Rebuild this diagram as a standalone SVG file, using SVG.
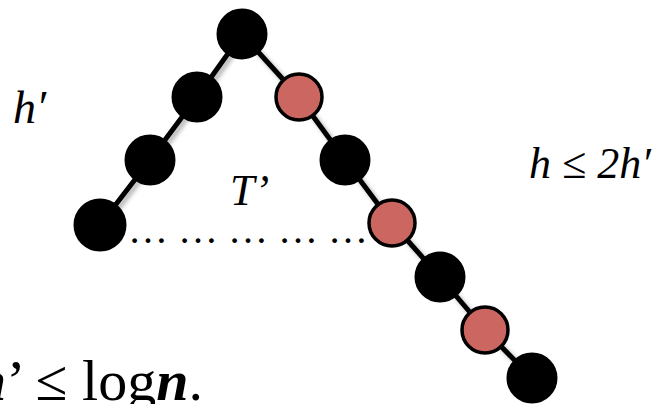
<svg xmlns="http://www.w3.org/2000/svg" width="663" height="404" viewBox="0 0 663 404">
<style>
.e{stroke:#000;stroke-width:5;stroke-linecap:round}
.b{fill:#000;stroke:#000;stroke-width:3}
.r{fill:#CC6661;stroke:#000;stroke-width:3.5}
.t{font-family:"Liberation Serif","Times New Roman",serif;font-style:italic;fill:#000}
</style>
<defs>
<filter id="sh" x="-20%" y="-20%" width="140%" height="140%">
<feDropShadow dx="3" dy="3" stdDeviation="2" flood-color="#000" flood-opacity="0.3"/>
</filter>
</defs>
<g id="connectors" filter="url(#sh)">
<line class="e" x1="242" y1="34" x2="197" y2="97"/>
<line class="e" x1="197" y1="97" x2="150" y2="160"/>
<line class="e" x1="150" y1="160" x2="100" y2="225"/>
<line class="e" x1="242" y1="34" x2="299" y2="97"/>
<line class="e" x1="299" y1="97" x2="345" y2="160"/>
<line class="e" x1="345" y1="160" x2="392" y2="223"/>
<line class="e" x1="392" y1="223" x2="440" y2="277"/>
<line class="e" x1="440" y1="277" x2="485" y2="330"/>
<line class="e" x1="485" y1="330" x2="532" y2="378"/>
</g>
<g id="n1"><circle class="b" cx="242" cy="34" r="24"/></g>
<g id="n2"><circle class="b" cx="197" cy="97" r="24"/></g>
<g id="n3"><circle class="b" cx="150" cy="160" r="24"/></g>
<g id="n4"><circle class="b" cx="100" cy="225" r="25"/></g>
<g id="n5"><circle class="r" cx="299" cy="97" r="23"/></g>
<g id="n6"><circle class="b" cx="345" cy="160" r="24"/></g>
<g id="n7"><circle class="r" cx="392" cy="223" r="23"/></g>
<g id="n8"><circle class="b" cx="440" cy="277" r="24"/></g>
<g id="n9"><circle class="r" cx="485" cy="330" r="23"/></g>
<g id="n10"><circle class="b" cx="532" cy="378" r="24"/></g>
<g id="labels">
<text class="t" x="13" y="123" font-size="46">h′</text>
<text class="t" x="529" y="178" font-size="44">h ≤ 2h′</text>
<text class="t" x="230" y="205" font-size="44">T’</text>
<text x="128" y="243" font-family="Liberation Serif, serif" font-size="40">… … … … …</text>
<text x="203" y="400" text-anchor="end" font-family="Liberation Serif, serif" font-size="58"><tspan font-style="italic" font-weight="bold">h</tspan>’ ≤ log<tspan font-style="italic" font-weight="bold">n</tspan>.</text>
</g>
</svg>
